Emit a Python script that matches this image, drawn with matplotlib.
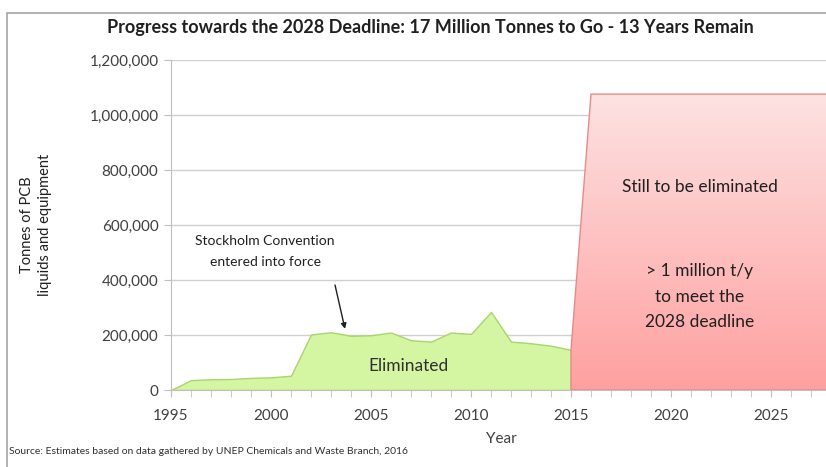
import numpy as np
import matplotlib.pyplot as plt
from matplotlib.patches import Polygon, Rectangle
from matplotlib.colors import LinearSegmentedColormap
from matplotlib.ticker import FuncFormatter, MultipleLocator

plt.rcParams['font.family'] = ['Lato', 'DejaVu Sans']

# eliminated tonnes per year
years = [1995, 1996, 1997, 1998, 1999, 2000, 2001, 2002, 2003, 2004, 2005,
         2006, 2007, 2008, 2009, 2010, 2011, 2012, 2013, 2014, 2015]
eliminated = [0, 36000, 39000, 40000, 44000, 46000, 52000, 202000, 210000, 197000, 199000,
              209000, 181000, 176000, 209000, 204000, 284000, 176000, 170000, 161000, 146000]

# still to be eliminated
future_years = [2015, 2015, 2016, 2028, 2028]
future_vals = [0, 146000, 1076000, 1076000, 0]

fig = plt.figure(figsize=(8.26, 4.67), dpi=100)
ax = fig.add_axes([171/826, 1-390/467, 660/826, 330/467])

# frame round the chart
fig.patches.append(Rectangle((7/826, -0.05), 1.0, 1-13/467+0.05, transform=fig.transFigure,
                             fill=False, edgecolor='#a6a6a6', linewidth=1.2))

ax.fill_between(years, eliminated, color='#d4f5a2', edgecolor='#a9d46e', linewidth=1.0, zorder=2)

# red area with vertical gradient
poly = Polygon(list(zip(future_years, future_vals)), closed=True, facecolor='none',
               edgecolor='#e88a8a', linewidth=1.0, zorder=4)
ax.add_patch(poly)
grad = np.linspace(0, 1, 256).reshape(-1, 1)
cmap = LinearSegmentedColormap.from_list('pinkgrad', ['#ffa0a0', '#fde2e2'])
im = ax.imshow(grad, cmap=cmap, aspect='auto', origin='lower',
               extent=[2015, 2028, 0, 1076000], zorder=3)
im.set_clip_path(poly)

ax.set_xlim(1995, 2028)
ax.set_ylim(0, 1200000)
ax.xaxis.set_major_locator(MultipleLocator(5))
ax.xaxis.set_minor_locator(MultipleLocator(1))
ax.yaxis.set_major_locator(MultipleLocator(200000))
ax.yaxis.set_major_formatter(FuncFormatter(lambda v, p: f'{int(v):,}'))
ax.grid(axis='y', color='#d0d0d0', linewidth=1.0, zorder=0)
ax.set_axisbelow(True)
for s in ['top', 'right']:
    ax.spines[s].set_visible(False)
for s in ['left', 'bottom']:
    ax.spines[s].set_color('#bfbfbf')
ax.tick_params(axis='y', length=5, color='#bfbfbf', labelsize=11, labelcolor='#404040', pad=4)
ax.tick_params(axis='x', which='both', length=5, color='#bfbfbf', labelsize=11,
               labelcolor='#404040', pad=9)

ax.set_xlabel('Year', fontsize=11, color='#404040', labelpad=6)
fig.text(36/826, 1-225/467, 'Tonnes of PCB\nliquids and equipment', rotation=90,
         ha='center', va='center', fontsize=10.5, color='#202020', linespacing=1.45)

fig.text(430/826, 1-28/467, 'Progress towards the 2028 Deadline: 17 Million Tonnes to Go - 13 Years Remain',
         ha='center', va='center', fontsize=13, fontweight='bold', color='#202020')
fig.text(9/826, 1-452/467, 'Source: Estimates based on data gathered by UNEP Chemicals and Waste Branch, 2016',
         ha='left', va='center', fontsize=7.5, color='#303030')

ax.text(1999.7, 505000, 'Stockholm Convention\nentered into force', ha='center', va='center',
        fontsize=10, color='#202020', linespacing=1.9, zorder=6)
ax.annotate('', xy=(2003.7, 222000), xytext=(2003.2, 382000),
            arrowprops=dict(arrowstyle='-|>', color='#202020', lw=1.0, shrinkA=0, shrinkB=0,
                            mutation_scale=8), zorder=6)

ax.text(2006.85, 87000, 'Eliminated', ha='center', va='center', fontsize=12.5, color='#303030', zorder=6)
ax.text(2021.45, 738000, 'Still to be eliminated', ha='center', va='center', fontsize=12.5,
        color='#202020', zorder=6)
ax.text(2021.45, 340000, '> 1 million t/y\nto meet the\n2028 deadline', ha='center', va='center',
        fontsize=12.5, color='#202020', linespacing=1.7, zorder=6)

fig.savefig('out.png', dpi=100)
